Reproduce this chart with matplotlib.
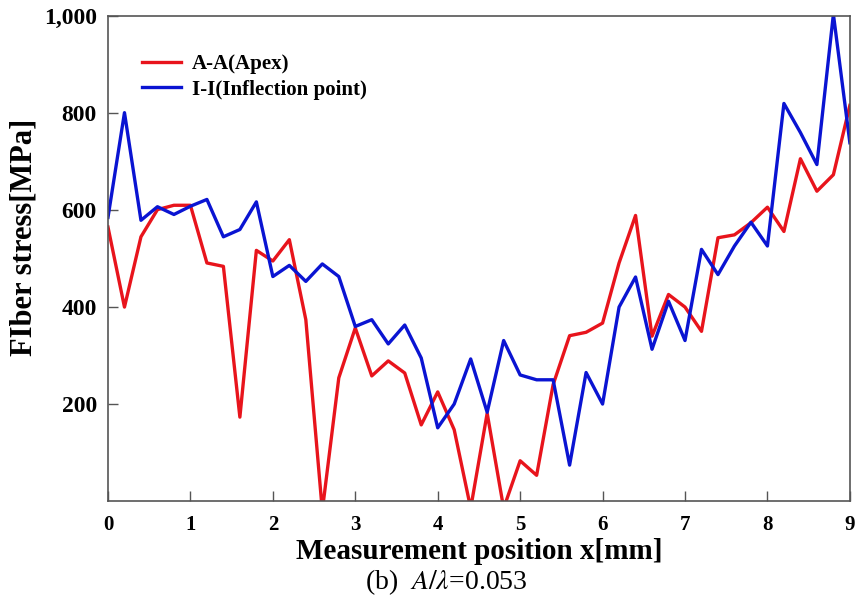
import matplotlib
matplotlib.use("Agg")
import matplotlib.pyplot as plt
from matplotlib.ticker import FuncFormatter

# posiciones de medida (mm), paso 0.2
posiciones = [round(i * 0.2, 1) for i in range(46)]

# A-A (Apex)
tension_apex = [565, 400, 545, 601, 610, 610, 491, 484, 173, 517,
                495, 539, 374, -20, 254, 357, 258, 289, 264, 157,
                225, 147, -15, 181, -15, 83, 53, 240, 341, 348,
                367, 491, 589, 340, 426, 400, 350, 543, 549, 574,
                606, 556, 706, 639, 673, 816]

# I-I (Inflection point)
tension_inflexion = [585, 801, 579, 607, 591, 608, 622, 545, 560, 617,
                     463, 486, 453, 489, 463, 360, 374, 324, 363, 295,
                     151, 200, 293, 183, 331, 260, 250, 250, 74, 265,
                     200, 400, 462, 313, 412, 331, 519, 467, 526, 575,
                     526, 820, 760, 694, 1004, 739]

ticks_x = list(range(10))
ticks_y = [200, 400, 600, 800, 1000]

plt.rcParams["font.family"] = ["Liberation Serif", "DejaVu Serif"]
plt.rcParams["mathtext.fontset"] = "stix"

fig = plt.figure(figsize=(8.55, 6), dpi=100)
ax = fig.add_axes([0.1263, 0.165, 0.8677, 0.808])

ax.plot(posiciones, tension_apex, color="#e8141c", lw=2.4, label="A-A(Apex)")
ax.plot(posiciones, tension_inflexion, color="#0a14d2", lw=2.4, label="I-I(Inflection point)")

ax.set_xlim(0, 9)
ax.set_ylim(0, 1000)
ax.set_xticks(ticks_x)
ax.set_yticks(ticks_y)
ax.yaxis.set_major_formatter(FuncFormatter(lambda v, p: f"{int(v):,}"))
ax.tick_params(direction="in", length=7, width=1, color="#555555")
ax.tick_params(axis="x", labelsize=15, pad=10)
ax.tick_params(axis="y", labelsize=17, pad=8)
for lbl in ax.get_xticklabels() + ax.get_yticklabels():
    lbl.set_fontweight("bold")
for s in ax.spines.values():
    s.set_color("#555555")
    s.set_linewidth(1.2)

ax.set_ylabel("FIber stress[MPa]", fontsize=22, fontweight="bold")
ax.yaxis.set_label_coords(-0.094, 0.543)
ax.set_xlabel("Measurement position x[mm]", fontsize=21, fontweight="bold")
ax.xaxis.set_label_coords(0.5, -0.076)

leg = ax.legend(loc="upper left", bbox_to_anchor=(0.02, 0.96), frameon=False,
                prop={"weight": "bold", "size": 15}, handlelength=1.9,
                handletextpad=0.5, labelspacing=0.25)

fig.text(0.522, 0.03, r"(b)  $A/\lambda$=0.053", fontsize=20, ha="center", va="center")

fig.savefig("out.png", dpi=100)
